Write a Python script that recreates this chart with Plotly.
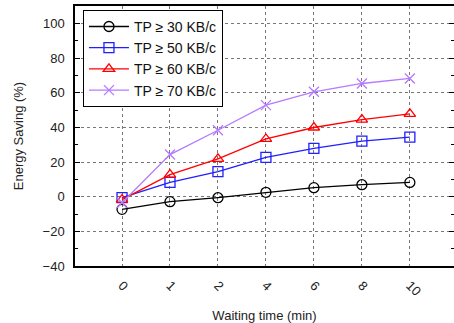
import plotly.graph_objects as go

wait_times = ["0", "1", "2", "4", "6", "8", "10"]
series_names = ["TP ≥ 30 KB/c", "TP ≥ 50 KB/c", "TP ≥ 60 KB/c", "TP ≥ 70 KB/c"]
tp30 = [-7.3, -2.9, -0.6, 2.5, 5.2, 6.9, 8.2]
tp50 = [-0.6, 8.3, 14.5, 22.7, 27.9, 32.0, 34.3]
tp60 = [-1.7, 12.7, 21.8, 33.3, 39.9, 44.5, 47.8]
tp70 = [-3.5, 24.3, 38.3, 52.8, 60.5, 65.3, 68.2]

colors = ["#000000", "#1f1fff", "#ff0000", "#b57aff"]
symbols = ["circle-open", "square-open", "triangle-up-open", "x-thin-open"]

fig = go.Figure()
for name, vals, c, s in zip(series_names, [tp30, tp50, tp60, tp70], colors, symbols):
    fig.add_trace(go.Scatter(
        x=wait_times, y=vals, name=name, mode="lines+markers",
        line=dict(color=c, width=1.3),
        marker=dict(symbol=s, size=10, color=c, line=dict(color=c, width=1.3)),
    ))

font = "Liberation Sans, Arial, sans-serif"
fig.update_layout(
    width=454, height=323,
    margin=dict(l=75, r=0, t=6, b=57, autoexpand=False),
    plot_bgcolor="white", paper_bgcolor="white",
    font=dict(family=font, size=13, color="#222"),
    showlegend=True,
    legend=dict(
        x=0.021, y=0.985, xanchor="left", yanchor="top",
        bordercolor="black", borderwidth=1, bgcolor="white",
        font=dict(size=14, color="#111"), tracegroupgap=0,
        itemwidth=40,
    ),
    xaxis=dict(
        type="category", range=[-0.98, 6.92], automargin=False,
        showline=True, linecolor="black", linewidth=1.5, mirror=True,
        showgrid=True, gridcolor="#777", griddash="dot", gridwidth=1,
        ticks="", tickangle=45, tickfont=dict(size=13), ticklabelstandoff=5,
        title=dict(text="Waiting time (min)", font=dict(size=13), standoff=14),
        zeroline=False,
    ),
    yaxis=dict(
        range=[-40, 110], tickvals=[-40, -20, 0, 20, 40, 60, 80, 100], automargin=False,
        showline=True, linecolor="black", linewidth=1.5, mirror="ticks",
        showgrid=True, gridcolor="#777", griddash="dot", gridwidth=1,
        ticks="inside", ticklen=5, tickcolor="black",
        minor=dict(dtick=10, ticks="inside", ticklen=3, tickcolor="black", showgrid=False),
        tickfont=dict(size=13), ticklabelstandoff=6,
        title=dict(text="Energy Saving (%)", font=dict(size=13), standoff=16),
        zeroline=False,
    ),
)

fig.write_html(
    "out.html",
    config={"displayModeBar": False},
    post_script="document.body.style.margin='0';document.body.style.overflow='hidden';",
)
